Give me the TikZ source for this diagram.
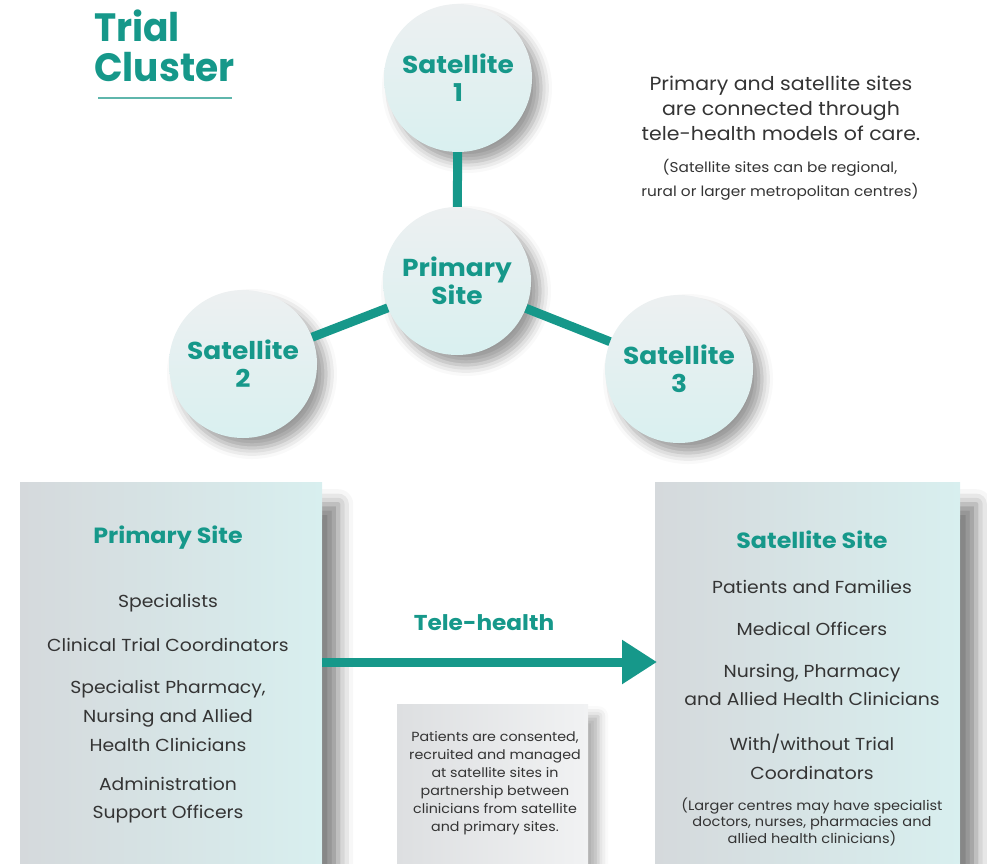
\documentclass[tikz,border=0pt]{standalone}
\usepackage{fontspec}
\setmainfont{Poppins}[FakeStretch=1.08]
\newfontfamily\titlefont{Poppins}[FakeStretch=0.95]
\usetikzlibrary{arrows.meta,shadows.blur}

\definecolor{tealc}{RGB}{22,152,138}
\definecolor{tealline}{RGB}{95,182,172}
\definecolor{ink}{RGB}{52,52,52}
\definecolor{circtop}{RGB}{237,240,241}
\definecolor{circbot}{RGB}{217,240,240}
\definecolor{panelL}{RGB}{213,217,220}
\definecolor{panelR}{RGB}{216,239,239}
\definecolor{noteL}{RGB}{221,223,225}
\definecolor{noteR}{RGB}{241,242,243}

\begin{document}
\begin{tikzpicture}[x=1pt,y=-1pt,
  every node/.style={inner sep=0pt, text=ink},
  site/.style={circle, minimum size=148pt, top color=circtop, bottom color=circbot,
    blur shadow={shadow xshift=9pt, shadow yshift=-10pt, shadow blur radius=11pt, shadow opacity=40},
    font=\fontsize{24.5}{28}\selectfont\bfseries, text=tealc, align=center},
  link/.style={draw=tealc, line width=9pt},
  panel/.style={rectangle, anchor=north west, left color=panelL, right color=panelR,
    blur shadow={shadow xshift=16pt, shadow yshift=-22pt, shadow blur radius=15pt, shadow opacity=50}},
  notepanel/.style={rectangle, anchor=north west, left color=noteL, right color=noteR,
    blur shadow={shadow xshift=10pt, shadow yshift=-12pt, shadow blur radius=10pt, shadow opacity=32}},
  head/.style={font=\fontsize{22}{24}\selectfont\bfseries, text=tealc},
  item/.style={font=\fontsize{17.4}{28.7}\selectfont, align=center, text=ink},
  note/.style={font=\fontsize{13.5}{15.5}\selectfont, align=center, text=ink},
  title/.style={font=\titlefont\fontsize{39.5}{40}\selectfont\bfseries, text=tealc, anchor=base west}
]
\useasboundingbox (0,0) rectangle (987,863);
\clip (0,0) rectangle (987,863);

% title
\node[title] (ttlA) at (94,41) {Trial};
\node[title] (ttlB) at (94,81) {Cluster};
\coordinate (ulA) at (98,98);
\coordinate (ulB) at (232,98);
\draw[tealline, line width=2.5pt] (ulA) -- (ulB);

% explanatory text, top right
\node[font=\fontsize{19}{25}\selectfont, align=center] (expl) at (781,108)
  {Primary and satellite sites\\are connected through\\tele-health models of care.};
\node[note, font=\fontsize{14.2}{24}\selectfont] (explnote) at (780,180)
  {(Satellite sites can be regional,\\rural or larger metropolitan centres)};

% trial cluster sites
\node[site] (sat1) at (458,78) {Satellite\\1};
\node[site] (prim) at (457,281) {Primary\\Site};
\node[site] (sat2) at (243,364) {Satellite\\2};
\node[site] (sat3) at (679,369) {Satellite\\3};
\draw[link] (sat1) -- (prim);
\draw[link] (prim) -- (sat2);
\draw[link] (prim) -- (sat3);

% panels
\node[panel, minimum width=302pt, minimum height=420pt] (lbox) at (20,482) {};
\node[panel, minimum width=305pt, minimum height=420pt] (rbox) at (655,482) {};
\node[notepanel, minimum width=191pt, minimum height=200pt] (mbox) at (397,704) {};

% primary site panel text
\node[head] (lhead) at (168,538) {Primary Site};
\node[item] (l1) at (168,603) {Specialists};
\node[item] (l2) at (168,645) {Clinical Trial Coordinators};
\node[item] (l3) at (168,716) {Specialist Pharmacy,\\Nursing and Allied\\Health Clinicians};
\node[item] (l4) at (168,800) {Administration\\Support Officers};

% satellite site panel text
\node[head] (rhead) at (812,540) {Satellite Site};
\node[item] (r1) at (812,587) {Patients and Families};
\node[item] (r2) at (812,629) {Medical Officers};
\node[item] (r3) at (812,685) {Nursing, Pharmacy\\and Allied Health Clinicians};
\node[item] (r4) at (812,757) {With/without Trial\\Coordinators};
\node[note] (r5) at (812,822) {(Larger centres may have specialist\\doctors, nurses, pharmacies and\\allied health clinicians)};

% tele-health arrow
\coordinate (arrS) at (322,662);
\coordinate (arrE) at (657,662);
\draw[link, -{Triangle[length=35pt,width=42pt]}] (arrS) -- (arrE);
\node[head, font=\fontsize{21.5}{24}\selectfont\bfseries] (tele) at (484,623) {Tele-health};

% note panel text
\node[note, font=\fontsize{13.2}{18}\selectfont] (mtext) at (495,783)
  {Patients are consented,\\recruited and managed\\at satellite sites in\\partnership between\\clinicians from satellite\\and primary sites.};
\end{tikzpicture}
\end{document}
